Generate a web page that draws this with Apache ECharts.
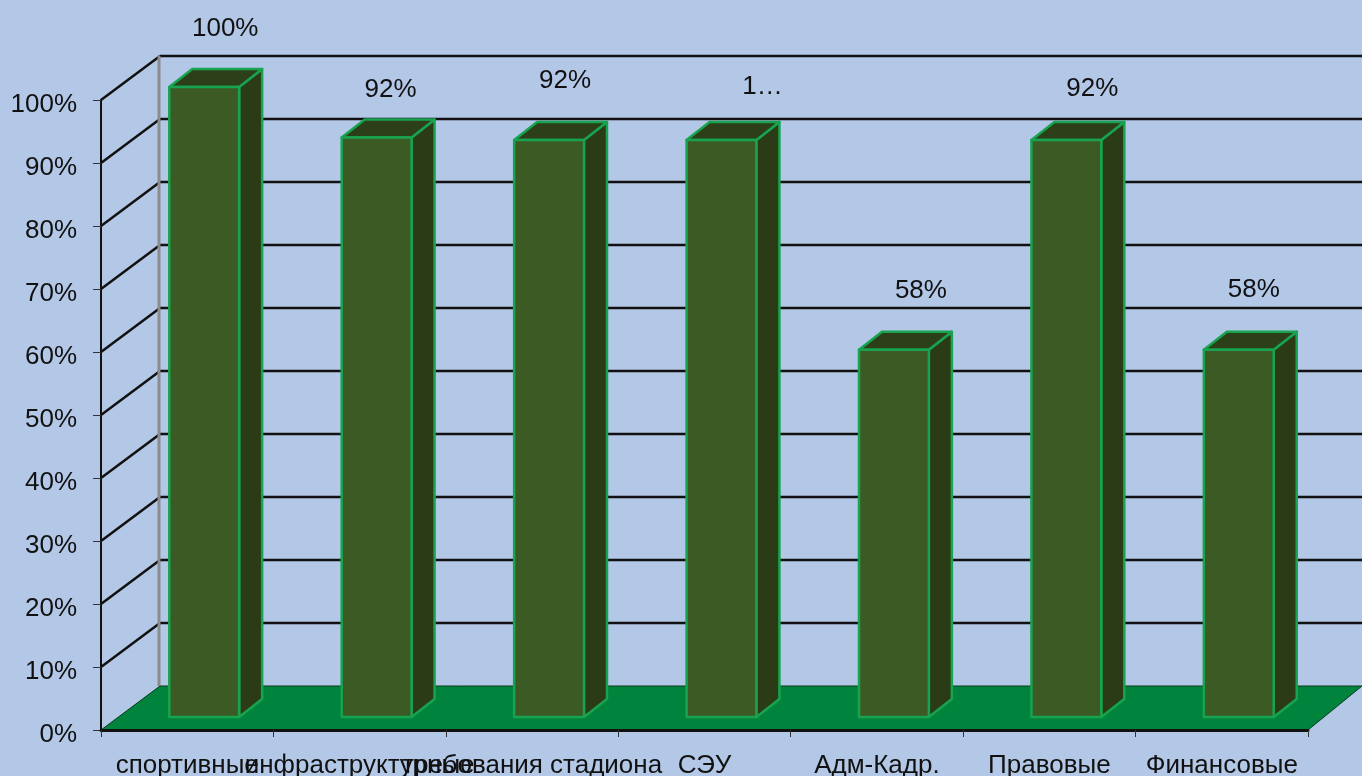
<!DOCTYPE html>
<html>
<head>
<meta charset="utf-8">
<style>html,body{margin:0;padding:0;background:#B3C7E6}#c{width:1362px;height:776px}</style>
<script src="https://cdn.jsdelivr.net/npm/echarts@6/dist/echarts.min.js"></script>
</head>
<body>
<div id="c"></div>
<script>
var categories = ['спортивные', 'инфраструктурные', 'требования стадиона', 'СЭУ', 'Адм-Кадр.', 'Правовые', 'Финансовые'];
var values = [100, 92, 91.6, 91.6, 58.3, 91.6, 58.3];
var valueLabels = ['100%', '92%', '92%', '1…', '58%', '92%', '58%'];
var gridTicks = [0, 10, 20, 30, 40, 50, 60, 70, 80, 90, 100];

// drawing constants (3D look, label placement)
var FAMILY = '"Liberation Sans", Arial, sans-serif';
var FONT = '26px ' + FAMILY;
var WALL = [59, -44];
var BAR_SHIFT = [17, -13];
var BAR_DEPTH = [23, -18];
var BAR_BAND = 0.405;
var LABEL_NUDGE = [[38,-71],[31,-61],[33,-72],[58,-66],[44,-72],[43,-64],[32,-73]];
var BG = '#B3C7E6', FRONT = '#3C5A24', SIDE = '#2A3B15', TOP = '#2C3F18', EDGE = '#17A34F', FLOOR = '#00843D';

function leftX(api) { return api.coord([0, 0])[0] - api.size([1, 0])[0] / 2; }
function rightX(api) { return api.coord([categories.length - 1, 0])[0] + api.size([1, 0])[0] / 2; }

function renderWall(params, api) {
  var v = api.value(0);
  var y = api.coord([0, v])[1];
  var x0 = leftX(api), x1 = rightX(api);
  var lineStyle = { stroke: '#111', lineWidth: 2.5, fill: null };
  var children = [];
  if (v > 0) {
    children.push({ type: 'line', shape: { x1: x0, y1: y, x2: x0 + WALL[0], y2: y + WALL[1] }, style: lineStyle });
    children.push({ type: 'line', shape: { x1: x0 + WALL[0], y1: y + WALL[1], x2: x1 + 54, y2: y + WALL[1] }, style: lineStyle });
  }
  if (v === 100) {
    var y0 = api.coord([0, 0])[1];
    children.push({ type: 'line', shape: { x1: x0 + WALL[0] - 1, y1: y + WALL[1], x2: x0 + WALL[0] - 1, y2: y0 + WALL[1] }, style: { stroke: '#8C8C8C', lineWidth: 3 } });
  }
  return { type: 'group', children: children };
}

function renderFloor(params, api) {
  var y0 = api.coord([0, 0])[1];
  var x0 = leftX(api), x1 = rightX(api);
  return {
    type: 'polygon',
    shape: { points: [[x0, y0], [x0 + WALL[0], y0 + WALL[1]], [x1 + 54, y0 + WALL[1]], [x1, y0]] },
    style: { fill: FLOOR, stroke: '#0a3a1c', lineWidth: 1 }
  };
}

function renderBar(params, api) {
  var i = api.value(0), v = api.value(1);
  var w = api.size([1, 0])[0] * BAR_BAND;
  var c = api.coord([i, v]), b = api.coord([i, 0]);
  var l = c[0] + BAR_SHIFT[0] - w / 2, r = l + w;
  var t = c[1] + BAR_SHIFT[1], base = b[1] + BAR_SHIFT[1];
  var dx = BAR_DEPTH[0], dy = BAR_DEPTH[1];
  var edge = { stroke: EDGE, lineWidth: 2.5, lineJoin: 'round' };
  function poly(points, fill) {
    return { type: 'polygon', shape: { points: points }, style: Object.assign({ fill: fill }, edge) };
  }
  return {
    type: 'group',
    children: [
      poly([[r, t], [r + dx, t + dy], [r + dx, base + dy], [r, base]], SIDE),
      poly([[l, t], [l + dx, t + dy], [r + dx, t + dy], [r, t]], TOP),
      poly([[l, t], [r, t], [r, base], [l, base]], FRONT)
    ]
  };
}

function renderLabel(params, api) {
  var i = api.value(0), v = api.value(1);
  var c = api.coord([i, v]);
  return {
    type: 'text',
    style: {
      x: c[0] + LABEL_NUDGE[i][0], y: c[1] + LABEL_NUDGE[i][1],
      text: valueLabels[i], font: FONT, fill: '#111',
      align: 'center', verticalAlign: 'middle'
    }
  };
}

var barData = values.map(function (v, i) { return [i, v]; });

var chart = echarts.init(document.getElementById('c'), null, { renderer: 'canvas' });
chart.setOption({
  animation: false,
  backgroundColor: BG,
  grid: { left: 101, right: 54, top: 100, bottom: 46, containLabel: false, outerBoundsMode: 'none' },
  xAxis: {
    type: 'category',
    data: categories,
    boundaryGap: true,
    axisLine: { show: true, lineStyle: { color: '#111', width: 3 } },
    axisTick: { show: true, length: 7, interval: 0, lineStyle: { color: '#333', width: 1 } },
    axisLabel: { interval: 0, hideOverlap: false, color: '#111', fontSize: 26, fontFamily: FAMILY, margin: 23 },
    z: 5
  },
  yAxis: {
    type: 'value', min: 0, max: 100, interval: 10,
    axisLine: { show: true, lineStyle: { color: '#111', width: 2 } },
    axisTick: { show: true, length: 8, lineStyle: { color: '#333', width: 1 } },
    axisLabel: {
      formatter: '{a|{value}%}', margin: 24,
      rich: { a: { color: '#111', fontSize: 26, fontFamily: FAMILY, padding: [10, 0, 0, 0] } }
    },
    splitLine: { show: false }
  },
  series: [
    { type: 'custom', coordinateSystem: 'cartesian2d', clip: false, z: 1, silent: true, renderItem: renderWall, data: gridTicks.map(function (t) { return [t]; }), encode: { y: 0 } },
    { type: 'custom', coordinateSystem: 'cartesian2d', clip: false, z: 2, silent: true, renderItem: renderFloor, data: [[0, 0]], encode: { x: 0, y: 1 } },
    { type: 'custom', coordinateSystem: 'cartesian2d', clip: false, z: 3, silent: true, renderItem: renderBar, data: barData, encode: { x: 0, y: 1 } },
    { type: 'custom', coordinateSystem: 'cartesian2d', clip: false, z: 4, silent: true, renderItem: renderLabel, data: barData, encode: { x: 0, y: 1 } }
  ]
});
</script>
</body>
</html>
